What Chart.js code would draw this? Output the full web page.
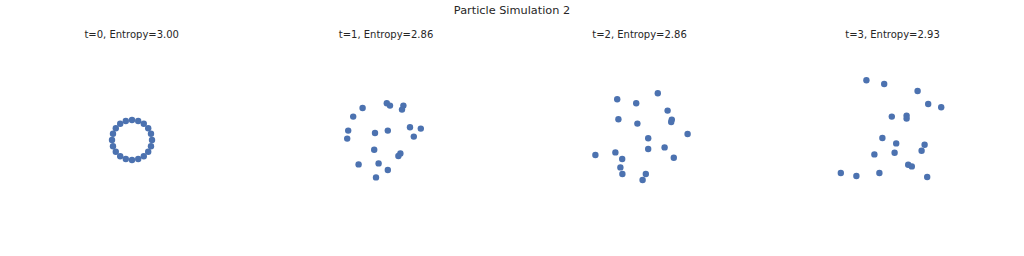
<!DOCTYPE html>
<html>
<head>
<meta charset="utf-8">
<script src="https://cdn.jsdelivr.net/npm/chart.js@4"></script>
<style>
  body { margin: 0; background: #fff; }
  #wrap { position: relative; width: 1024px; height: 256px; font-family: 'DejaVu Sans', sans-serif; color: #262626; }
  .title { position: absolute; top: 4px; left: 0; width: 1024px; text-align: center; font-size: 11.3px; }
  .sub { position: absolute; top: 28.5px; width: 200px; text-align: center; font-size: 10px; }
  canvas.panel { position: absolute; top: 40px; }
</style>
</head>
<body>
<div id="wrap">
  <div class="title">Particle Simulation 2</div>
</div>
<script>
// Particle positions per time step (x, y)
const steps = [0, 1, 2, 3];
const entropies = ['3.00', '2.86', '2.86', '2.93'];

const x0 = [1.00, 0.95, 0.81, 0.59, 0.31, 0.00, -0.31, -0.59, -0.81, -0.95, -1.00, -0.95, -0.81, -0.59, -0.31, 0.00, 0.31, 0.59, 0.81, 0.95];
const y0 = [0.00, 0.31, 0.59, 0.81, 0.95, 1.00, 0.95, 0.81, 0.59, 0.31, 0.00, -0.31, -0.59, -0.81, -0.95, -1.00, -0.95, -0.81, -0.59, -0.31];

const x1 = [-1.17, -1.64, -1.89, -1.94, 0.04, 0.20, 0.87, 0.80, -0.55, 0.09, 1.20, 1.74, 1.39, -0.59, 0.72, 0.62, -1.37, -0.37, 0.09, -0.50];
const y1 = [1.60, 1.17, 0.47, 0.07, 1.84, 1.72, 1.72, 1.52, 0.35, 0.47, 0.64, 0.57, 0.17, -0.49, -0.67, -0.80, -1.22, -1.17, -1.50, -1.87];

const x2 = [-1.14, -0.19, 0.89, 1.38, 1.59, 1.56, -1.08, -0.13, 2.38, 0.41, 0.41, 1.23, 1.69, -2.23, -1.23, -0.89, -0.98, -0.88, 0.29, 0.13];
const y2 = [2.04, 1.84, 2.34, 1.47, 1.02, 0.90, 1.04, 0.82, 0.30, 0.09, -0.45, -0.37, -0.89, -0.75, -0.62, -0.95, -1.37, -1.70, -1.70, -2.00];

const x3 = [-1.33, -0.44, 1.23, 1.76, 2.41, -0.06, 0.68, 0.68, -0.53, 0.16, 1.58, 1.43, -0.93, 0.08, 0.76, 0.94, -2.61, -1.83, -0.68, 1.71];
const y3 = [2.99, 2.80, 2.45, 1.80, 1.64, 1.17, 1.22, 1.07, 0.10, -0.17, -0.24, -0.54, -0.72, -0.64, -1.24, -1.32, -1.65, -1.80, -1.65, -1.85];

const xs = [x0, x1, x2, x3];
const ys = [y0, y1, y2, y3];

const centers = [131.7, 386, 639.5, 892.5];
const wrap = document.getElementById('wrap');

steps.forEach(function (t, i) {
    const sub = document.createElement('div');
    sub.className = 'sub';
    sub.style.left = (centers[i] - 100) + 'px';
    sub.textContent = 't=' + t + ', Entropy=' + entropies[i];
    wrap.appendChild(sub);

    const canvas = document.createElement('canvas');
    canvas.className = 'panel';
    canvas.width = 200;
    canvas.height = 200;
    canvas.style.left = (centers[i] - 100) + 'px';
    wrap.appendChild(canvas);

    const points = xs[i].map(function (x, k) { return { x: x, y: ys[i][k] }; });

    new Chart(canvas.getContext('2d'), {
        type: 'scatter',
        data: {
            datasets: [{
                data: points,
                backgroundColor: '#4C72B0',
                borderWidth: 0,
                pointRadius: 3.2
            }]
        },
        options: {
            responsive: false,
            animation: false,
            layout: { padding: 0, autoPadding: false },
            plugins: {
                legend: { display: false },
                tooltip: { enabled: false }
            },
            scales: {
                x: { display: false, min: -5, max: 5 },
                y: { display: false, min: -5, max: 5 }
            }
        }
    });
});
</script>
</body>
</html>
